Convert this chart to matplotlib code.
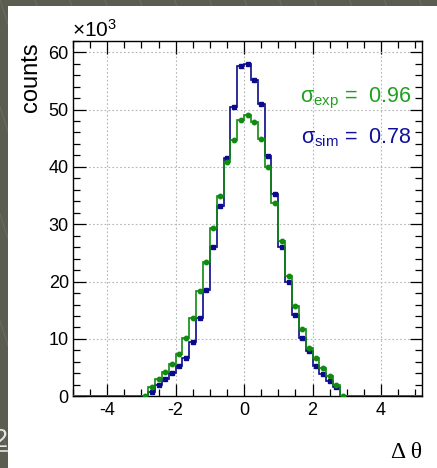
import numpy as np
import matplotlib
matplotlib.use("Agg")
import matplotlib.pyplot as plt
from matplotlib.patches import Rectangle
from matplotlib.lines import Line2D

# Histogram contents in units of 10^3 counts, bins of width 0.2 centred on -2.9 ... 2.9
bin_centers = [-2.9, -2.7, -2.5, -2.3, -2.1, -1.9, -1.7, -1.5, -1.3, -1.1,
               -0.9, -0.7, -0.5, -0.3, -0.1, 0.1, 0.3, 0.5, 0.7, 0.9,
               1.1, 1.3, 1.5, 1.7, 1.9, 2.1, 2.3, 2.5, 2.7, 2.9]
counts_exp = [0.1, 1.7, 3.0, 4.3, 5.6, 7.4, 10.1, 13.6, 18.4, 23.5,
              29.3, 35.0, 40.8, 44.7, 48.2, 49.1, 47.8, 44.9, 39.9, 33.7,
              27.1, 21.0, 15.8, 11.7, 8.5, 6.6, 4.9, 3.6, 2.0, 0.1]
counts_sim = [0.0, 0.8, 2.0, 3.1, 4.0, 5.3, 6.7, 9.5, 13.7, 18.5,
              26.1, 33.1, 41.5, 50.4, 57.6, 57.9, 55.2, 50.9, 41.9, 35.2,
              26.1, 19.9, 14.1, 10.1, 7.9, 5.2, 3.9, 2.7, 1.6, 0.0]
sigma_exp = 0.96
sigma_sim = 0.78

x_range = (-5.0, 5.2)
bin_width = 0.2
x_ticks = [-4, -2, 0, 2, 4]
y_ticks = [0, 10, 20, 30, 40, 50, 60]

GREEN_LINE = "#108a10"
GREEN_TEXT = "#1fa01f"
BLUE_LINE = "#0a0a8a"
BLUE_TEXT = "#10109a"

plt.rcParams["mathtext.fontset"] = "custom"
plt.rcParams["mathtext.rm"] = "Liberation Sans"
plt.rcParams["mathtext.it"] = "Liberation Sans"

W, H = 437, 468
fig = plt.figure(figsize=(W / 100, H / 100), dpi=100)
fig.patch.set_facecolor("#5c5d51")

# faint slide texture behind the white panel
for k in range(-6, 14):
    fig.add_artist(Line2D([k * 0.08, k * 0.08 + 0.35], [1.0, 0.0],
                          transform=fig.transFigure, color="#6b6c60", lw=0.8, zorder=0))

# slide page number peeking out at the left edge
fig.text(8 / W, 1 - 440 / H, "2", color="#e6e6e6", fontsize=18,
         family="Liberation Sans", ha="right", va="center", zorder=1)
fig.add_artist(Line2D([0, 7 / W], [1 - 451 / H, 1 - 451 / H],
                      transform=fig.transFigure, color="#e6e6e6", lw=1.2, zorder=1))

# white canvas
fig.add_artist(Rectangle((8 / W, 0), 1 - 8 / W, 1 - 6 / H, transform=fig.transFigure,
                         facecolor="white", edgecolor="none", zorder=2))

left, right, top, bottom = 73, 422, 40.7, 396.3
ax = fig.add_axes([left / W, 1 - bottom / H, (right - left) / W, (bottom - top) / H])
ax.set_zorder(3)
ax.set_facecolor("white")

# full step outline over the whole axis range (empty bins at zero)
edges = np.arange(x_range[0], x_range[1] + 1e-9, bin_width)
centers_all = edges[:-1] + bin_width / 2


def full_contents(values):
    out = np.zeros(len(centers_all))
    for c, v in zip(bin_centers, values):
        idx = int(round((c - x_range[0]) / bin_width - 0.5))
        out[idx] = v
    return out


def draw_hist(values, line_color, marker, ms, z):
    full = full_contents(values)
    ax.stairs(full, edges, color=line_color, lw=1.2, zorder=z, baseline=None)
    c = np.array(bin_centers)
    v = np.array(values)
    mask = v > 0
    err = 1.5 * np.sqrt(v * 1e3) / 1e3
    ax.errorbar(c[mask], v[mask], yerr=err[mask], fmt=marker, color=line_color,
                ms=ms, elinewidth=1.0, capsize=0, zorder=z + 0.5)


draw_hist(counts_sim, BLUE_LINE, "s", 2.6, 4)
draw_hist(counts_exp, GREEN_LINE, "o", 3.2, 5)

ax.set_xlim(*x_range)
ax.set_ylim(0, 62)
ax.set_xticks(x_ticks)
ax.set_yticks(y_ticks)
ax.set_xticks(np.arange(-5, 5.21, 0.5), minor=True)
ax.set_yticks(np.arange(0, 62.1, 2), minor=True)
ax.set_xticklabels([str(t) for t in x_ticks])
ax.set_yticklabels([str(t) for t in y_ticks])

ax.tick_params(which="both", direction="in", top=True, right=True, color="black")
ax.tick_params(which="major", length=9, width=0.9, labelsize=13, pad=4)
ax.tick_params(which="minor", length=5, width=0.9)
ax.tick_params(axis="y", which="major", pad=3)
for lab in ax.get_xticklabels() + ax.get_yticklabels():
    lab.set_family("Liberation Sans")

ax.grid(True, which="major", color="#b5b5b5", lw=0.8, linestyle=(0, (1.5, 2)))
ax.set_axisbelow(True)
for s in ax.spines.values():
    s.set_linewidth(1.0)
    s.set_color("black")

# exponent marker above the y axis
fig.text(72 / W, 1 - 37 / H, r"$\times10^{3}$", fontsize=15, color="black",
         ha="left", va="baseline", zorder=4)

# axis titles
fig.text(20 / W, 1 - 42 / H, "counts", rotation=90, fontsize=17,
         family="Liberation Sans", ha="left", va="top", zorder=4)
fig.text(422 / W, 1 - 458 / H, "\u0394 \u03b8", fontsize=17,
         family="Liberation Serif", ha="right", va="baseline", zorder=4)

# width results
ax.text(0.97, 0.838, r"$\sigma_{\mathrm{exp}}$ =  %.2f" % sigma_exp, transform=ax.transAxes,
        fontsize=15.5, color=GREEN_TEXT, ha="right", va="center", family="Liberation Sans",
        zorder=6)
ax.text(0.97, 0.727, r"$\sigma_{\mathrm{sim}}$ =  %.2f" % sigma_sim, transform=ax.transAxes,
        fontsize=15.5, color=BLUE_TEXT, ha="right", va="center", family="Liberation Sans",
        zorder=6)

fig.savefig("out.png", dpi=100, facecolor=fig.get_facecolor())
